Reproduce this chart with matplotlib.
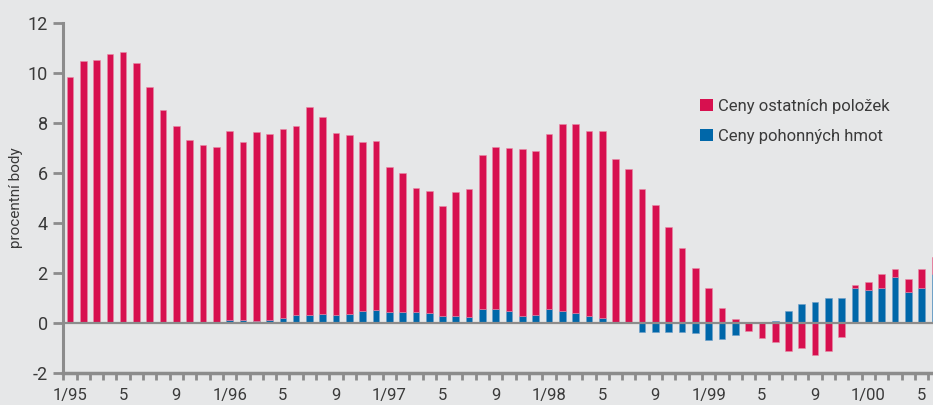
import numpy as np
import matplotlib
matplotlib.use('Agg')
import matplotlib.pyplot as plt
from matplotlib.patches import Patch

# monthly data 1/1995 - 6/2000, percentage points
fuel = [0, 0, 0, 0, 0, 0, 0, 0, 0, 0, 0, 0,
        0.13, 0.12, 0.06, 0.12, 0.21, 0.33, 0.33, 0.36, 0.32, 0.37, 0.49, 0.53,
        0.43, 0.43, 0.43, 0.40, 0.29, 0.29, 0.24, 0.56, 0.55, 0.47, 0.29, 0.32,
        0.56, 0.49, 0.40, 0.28, 0.21, 0.0, 0.0, -0.37, -0.36, -0.36, -0.36, -0.41,
        -0.67, -0.65, -0.50, 0.02, 0.0, 0.06, 0.48, 0.76, 0.83, 0.99, 1.01, 1.41,
        1.33, 1.41, 1.83, 1.25, 1.41, 1.96]
other = [9.83, 10.48, 10.51, 10.73, 10.84, 10.40, 9.43, 8.51, 7.88, 7.29, 7.11, 7.01,
         7.52, 7.12, 7.57, 7.44, 7.54, 7.55, 8.30, 7.87, 7.28, 7.14, 6.75, 6.75,
         5.78, 5.56, 4.97, 4.87, 4.39, 4.95, 5.11, 6.13, 6.48, 6.53, 6.67, 6.56,
         7.00, 7.46, 7.56, 7.40, 7.44, 6.55, 6.16, 5.35, 4.72, 3.83, 3.00, 2.19,
         1.41, 0.59, 0.15, -0.33, -0.62, -0.78, -1.12, -0.99, -1.27, -1.12, -0.55, 0.12,
         0.32, 0.54, 0.34, 0.50, 0.76, 0.68]
tick_labels = ['1/95', '5', '9', '1/96', '5', '9', '1/97', '5', '9',
               '1/98', '5', '9', '1/99', '5', '9', '1/00', '5']
legend_labels = ['Ceny ostatních položek', 'Ceny pohonných hmot']

red = '#d7104f'
blue = '#0067a9'
bg = '#e6e7e8'
gray = '#8c8c8c'
txt = '#3a3a3a'

plt.rcParams['font.family'] = ['Roboto', 'DejaVu Sans']

fuel = np.array(fuel)
other = np.array(other)
x = np.arange(len(fuel))
bottom_other = np.where(np.sign(other) == np.sign(fuel), fuel, 0)

fig = plt.figure(figsize=(9.33, 4.05), dpi=100, facecolor=bg)
ax = fig.add_axes([63/933, 32/405, 870/933, 350.5/405], facecolor=bg)

ax.bar(x, fuel, width=0.5, color=blue, edgecolor='#6f9fc8', linewidth=0.4, zorder=2)
ax.bar(x, other, width=0.5, bottom=bottom_other, color=red, edgecolor='#e88aa6',
       linewidth=0.4, zorder=2)
ax.axhline(0, color=gray, lw=1.6, zorder=3)

ax.set_xlim(-0.52, 64.86)
ax.set_ylim(-2, 12)
ax.set_yticks(range(-2, 13, 2))
ax.set_yticklabels([str(v) for v in range(-2, 13, 2)])
ax.set_xticks(np.arange(0, 65, 4))
ax.set_xticklabels(tick_labels)
ax.set_xticks(np.arange(-0.5, 65, 1), minor=True)
ax.tick_params(axis='x', which='major', length=0, pad=11, labelsize=12, colors=txt)
ax.tick_params(axis='x', which='minor', length=5, width=2, color=gray, direction='out')
ax.tick_params(axis='y', length=7, width=2, color=gray, labelsize=13, labelcolor=txt, pad=4)

for s in ['top', 'right']:
    ax.spines[s].set_visible(False)
ax.spines['left'].set_color(gray)
ax.spines['left'].set_linewidth(2.2)
ax.spines['bottom'].set_color(gray)
ax.spines['bottom'].set_linewidth(2.5)

ax.set_ylabel('procentní body', fontsize=11, color=txt, labelpad=3)

handles = [Patch(facecolor=red, edgecolor='none'), Patch(facecolor=blue, edgecolor='none')]
ax.legend(handles, legend_labels, loc='upper left', bbox_to_anchor=(700/933, 1 - 99/405),
          bbox_transform=fig.transFigure, frameon=False, fontsize=12, labelcolor=txt,
          handlelength=0.75, handleheight=0.75, handletextpad=0.35, labelspacing=0.9,
          borderpad=0, borderaxespad=0)

fig.savefig('out.png', dpi=100, facecolor=bg)
